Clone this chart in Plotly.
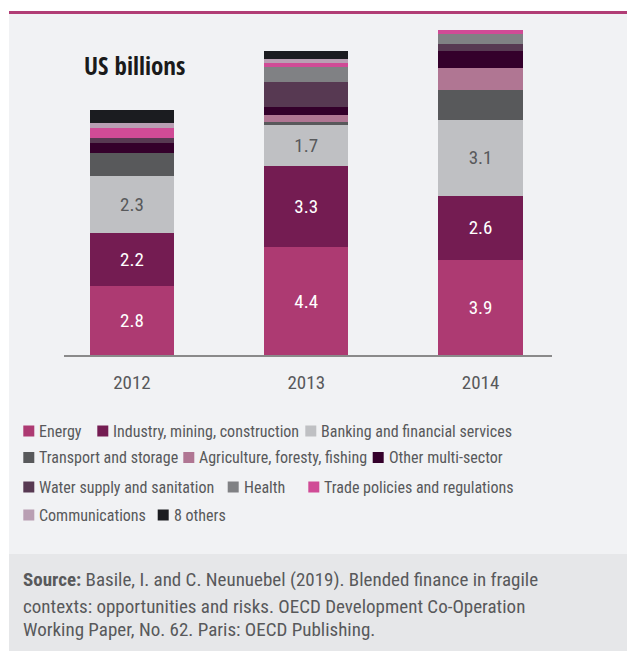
import plotly.graph_objects as go

# ---------------- data ----------------
years = ["2012", "2013", "2014"]
sectors = [
    "Energy",
    "Industry, mining, construction",
    "Banking and financial services",
    "Transport and storage",
    "Agriculture, foresty, fishing",
    "Other multi-sector",
    "Water supply and sanitation",
    "Health",
    "Trade policies and regulations",
    "Communications",
    "8 others",
]
energy = [2.8, 4.4, 3.9]
industry = [2.2, 3.3, 2.6]
banking = [2.3, 1.7, 3.1]
transport = [0.94, 0.11, 1.22]
agriculture = [0.0, 0.30, 0.90]
other_multi = [0.41, 0.31, 0.69]
water = [0.20, 1.02, 0.29]
health = [0.0, 0.64, 0.41]
trade = [0.41, 0.14, 0.16]
communications = [0.20, 0.16, 0.0]
others8 = [0.53, 0.33, 0.0]
series = [energy, industry, banking, transport, agriculture, other_multi,
          water, health, trade, communications, others8]

# ---------------- styles ----------------
colors = ["#ad3a72", "#741c52", "#bfc0c3", "#58595b", "#b07693", "#34002b",
          "#573952", "#808184", "#d04b96", "#b99fb3", "#1b1c20"]
label_colors = ["#ffffff", "#ffffff", "#58595b"]

OFF = 8                      # page body margin of the html page
W, H = 635 - OFF, 651 - OFF  # figure size so that it fills the window
# legend entry placement in window pixels (swatch left, row centre)
leg_x = [23.3, 97.3, 305.3, 23.3, 183.3, 372.7, 23.3, 227.7, 308.3, 23.3, 157.7]
leg_y = [431, 431, 431, 457.5, 457.5, 457.5, 487, 487, 487, 515, 515]
SW = 11     # swatch size
TGAP = 14   # swatch left -> text start

FONT = "Roboto Condensed, Roboto, sans-serif"
TITLE_FONT = "Open Sans Condensed, Roboto Condensed, sans-serif"
TXT = "#58595b"

ML, MR, MT, MB = 64 - OFF, 83, 22 - OFF, 296
PW = W - ML - MR
PH = H - MT - MB
BASE = H - MB


def px_x(p):  # window pixel -> paper x
    return (p - OFF - ML) / PW


def px_y(p):  # window pixel -> paper y
    return (BASE - (p - OFF)) / PH


fig = go.Figure()
for i, (name, vals, col) in enumerate(zip(sectors, series, colors)):
    if i < 3:
        kw = dict(texttemplate="%{y:.1f}", textposition="inside",
                  insidetextanchor="middle", textangle=0,
                  textfont=dict(family=FONT, size=19, color=label_colors[i]))
    else:
        kw = dict(textposition="none")
    fig.add_trace(go.Bar(x=years, y=vals, name=name, marker_color=col,
                         marker_line_width=0, width=0.483, showlegend=False,
                         **kw))

shapes = [
    dict(type="rect", xref="paper", yref="paper", layer="below",
         x0=px_x(9), x1=px_x(660), y0=px_y(670), y1=px_y(12),
         fillcolor="#f1f2f4", line_width=0),
    dict(type="rect", xref="paper", yref="paper", layer="below",
         x0=px_x(9), x1=px_x(660), y0=px_y(670), y1=px_y(554),
         fillcolor="#e6e7e9", line_width=0),
    dict(type="line", xref="paper", yref="paper", layer="below",
         x0=px_x(9), x1=px_x(660), y0=px_y(12.5), y1=px_y(12.5),
         line=dict(color="#b13d75", width=3)),
]

# legend: swatches + labels
for name, col, sx, cy in zip(sectors, colors, leg_x, leg_y):
    shapes.append(dict(type="rect", xref="paper", yref="paper",
                       x0=px_x(sx), x1=px_x(sx + SW),
                       y0=px_y(cy + SW / 2), y1=px_y(cy - SW / 2),
                       fillcolor=col, line_width=0))
    fig.add_annotation(text=name, xref="paper", yref="paper",
                       x=px_x(sx + TGAP), y=px_y(cy), xanchor="left",
                       yanchor="middle", showarrow=False,
                       font=dict(family=FONT, size=16, color=TXT))

fig.update_layout(
    width=W, height=H,
    margin=dict(l=ML, r=MR, t=MT, b=MB, pad=0),
    paper_bgcolor="#ffffff",
    plot_bgcolor="rgba(0,0,0,0)",
    barmode="stack",
    showlegend=False,
    title=dict(text="US billions", xref="container", yref="container",
               x=(84 - OFF) / W, y=1 - (66 - OFF) / H, xanchor="left",
               yanchor="middle",
               font=dict(family=TITLE_FONT, size=25, color="#1a1a1a",
                         weight="bold")),
    xaxis=dict(type="category", range=[-0.39, 2.41], showline=True,
               linecolor="#8a8a8a", linewidth=1.5, ticks="", showgrid=False,
               zeroline=False, ticklabelstandoff=9,
               tickfont=dict(family=FONT, size=19, color=TXT), fixedrange=True),
    yaxis=dict(range=[0, 13.6], visible=False, fixedrange=True),
    shapes=shapes,
)

src_lines = [
    "<b>Source:</b> Basile, I. and C. Neunuebel (2019). Blended finance in fragile",
    "contexts: opportunities and risks. OECD Development Co-Operation",
    "Working Paper, No. 62. Paris: OECD Publishing.",
]
src_y = [579, 606, 629]
for t, yy in zip(src_lines, src_y):
    fig.add_annotation(text=t, xref="paper", yref="paper", x=px_x(21),
                       y=px_y(yy), xanchor="left", yanchor="middle",
                       showarrow=False, align="left",
                       font=dict(family=FONT, size=19, color=TXT))

fig.write_html("out.html")
